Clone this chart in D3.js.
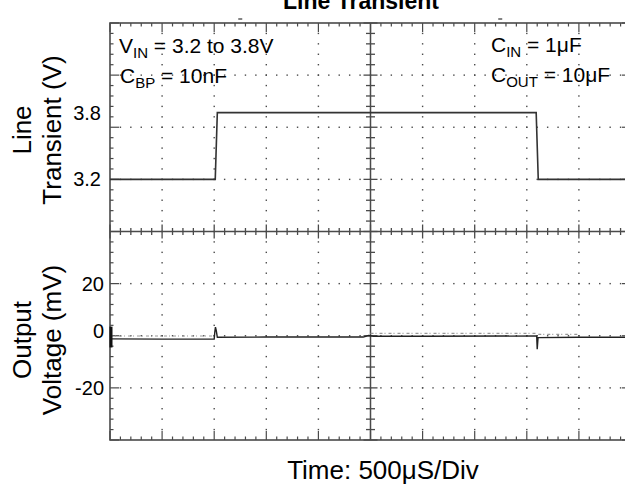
<!DOCTYPE html>
<html>
<head>
<meta charset="utf-8">
<script src="https://cdn.jsdelivr.net/npm/d3@7"></script>
<style>
  body { margin: 0; background: #fff; }
  svg { display: block; font-family: "Liberation Sans", Arial, sans-serif; }
</style>
</head>
<body>
<svg id="chart" width="625" height="491"></svg>
<script>
// ---- data (time in uS, top trace in V, bottom trace in mV)
const timeDomain = [0, 5000];
const divTime = 500;

const lineTime = [0, 1010, 1030, 4090, 4110, 5000];
const lineVolts = [3.2, 3.2, 3.8, 3.8, 3.2, 3.2];

const outTime = [0, 500, 1000, 1006, 1012, 1020, 1030, 1500, 2430, 2480, 2530, 3000, 4095, 4100, 4108, 4500, 5000];
const outMv = [-1.2, -1.3, -1.3, 1.5, 3.3, 2.0, -0.6, -0.5, -0.5, 0.1, -0.2, -0.2, -0.1, -5.2, -0.7, -0.6, -0.6];

// noisy stretches of the output trace: [from, to, level mV]
const noiseStart = [0, 2500, 4110];
const noiseEnd = [1000, 4095, 4500];
const noiseMv = [-0.7, 0.3, -0.1];

const groundMarkMv = [3.5, -4.5];
const topMarkTime = [1250, 3745];

const topTicks = [3.2, 3.8];
const bottomTicks = [20, 0, -20];

// ---- layout
const svg = d3.select("#chart");
const pLeft = 110, pRight = 631, pTop = 23, pBottom = 440;

const x = d3.scaleLinear().domain(timeDomain).range([pLeft, pRight]);
const yDiv = d3.scaleLinear().domain([-4, 4]).range([pBottom, pTop]);
const yV = d3.scaleLinear().domain([3.2, 3.8]).range([yDiv(1), yDiv(2.28)]);
const yMv = d3.scaleLinear().domain([-40, 40]).range([yDiv(-4), yDiv(0)]);

const xMajor = d3.range(0, 5001, divTime);
const xMinor = d3.range(0, 5001, divTime / 5);
const yMajor = d3.range(-4, 5, 1);
const yMinor = d3.range(-4, 4.01, 0.2);

const gridCol = "#4a4a4a";
const g = svg.append("g");

// dotted grid
xMajor.filter(t => t > 0 && t < 5000 && t !== 2500).forEach(t => {
  g.selectAll(null).data(yMinor.filter(d => d > -3.99 && d < 3.99))
    .join("rect")
      .attr("x", x(t) - 0.7).attr("y", d => yDiv(d) - 0.7)
      .attr("width", 1.4).attr("height", 1.4)
      .attr("fill", gridCol);
});
yMajor.filter(d => d > -4 && d < 4 && d !== 0).forEach(d => {
  g.selectAll(null).data(xMinor.filter(t => t > 0 && t < 5000))
    .join("rect")
      .attr("x", t => x(t) - 0.7).attr("y", yDiv(d) - 0.7)
      .attr("width", 1.4).attr("height", 1.4)
      .attr("fill", gridCol);
});

// centre cross
g.append("line").attr("x1", pLeft).attr("x2", pRight).attr("y1", yDiv(0)).attr("y2", yDiv(0))
  .attr("stroke", gridCol).attr("stroke-width", 1.5);
g.append("line").attr("x1", x(2500)).attr("x2", x(2500)).attr("y1", pTop).attr("y2", pBottom)
  .attr("stroke", gridCol).attr("stroke-width", 1.5);

const isMajorT = t => t % divTime === 0;
const isMajorY = d => Math.abs(d - Math.round(d)) < 1e-6;

g.selectAll("line.cx").data(xMinor)
  .join("line").attr("class", "cx")
    .attr("x1", t => x(t)).attr("x2", t => x(t))
    .attr("y1", t => yDiv(0) - (isMajorT(t) ? 7 : 3.5))
    .attr("y2", t => yDiv(0) + (isMajorT(t) ? 7 : 3.5))
    .attr("stroke", gridCol).attr("stroke-width", 1.3);
g.selectAll("line.cy").data(yMinor)
  .join("line").attr("class", "cy")
    .attr("y1", d => yDiv(d)).attr("y2", d => yDiv(d))
    .attr("x1", d => x(2500) - (isMajorY(d) ? 7 : 4.5))
    .attr("x2", d => x(2500) + (isMajorY(d) ? 7 : 4.5))
    .attr("stroke", gridCol).attr("stroke-width", 1.3);

// frame ticks
g.selectAll("line.ft").data(xMinor)
  .join("line").attr("class", "ft")
    .attr("x1", t => x(t)).attr("x2", t => x(t))
    .attr("y1", pTop).attr("y2", t => pTop + (isMajorT(t) ? 9 : 3.5))
    .attr("stroke", gridCol).attr("stroke-width", 1.2);
g.selectAll("line.fb").data(xMinor)
  .join("line").attr("class", "fb")
    .attr("x1", t => x(t)).attr("x2", t => x(t))
    .attr("y1", pBottom).attr("y2", t => pBottom - (isMajorT(t) ? 9 : 3.5))
    .attr("stroke", gridCol).attr("stroke-width", 1.2);
g.selectAll("line.fl").data(yMinor)
  .join("line").attr("class", "fl")
    .attr("y1", d => yDiv(d)).attr("y2", d => yDiv(d))
    .attr("x1", pLeft).attr("x2", d => pLeft + (isMajorY(d) ? 9 : 3.5))
    .attr("stroke", gridCol).attr("stroke-width", 1.2);
g.selectAll("line.fr").data(yMinor)
  .join("line").attr("class", "fr")
    .attr("y1", d => yDiv(d)).attr("y2", d => yDiv(d))
    .attr("x1", pRight).attr("x2", d => pRight - (isMajorY(d) ? 9 : 3.5))
    .attr("stroke", gridCol).attr("stroke-width", 1.2);

g.append("rect")
  .attr("x", pLeft).attr("y", pTop).attr("width", pRight - pLeft).attr("height", pBottom - pTop)
  .attr("fill", "none").attr("stroke", gridCol).attr("stroke-width", 1.6);

// top markers
g.selectAll("line.mk").data(topMarkTime)
  .join("line").attr("class", "mk")
    .attr("x1", t => x(t) - 2).attr("x2", t => x(t) + 2)
    .attr("y1", pTop - 4).attr("y2", pTop - 4)
    .attr("stroke", "#333").attr("stroke-width", 1.2);

// ---- traces
const lineData = lineTime.map((t, i) => ({t: t, v: lineVolts[i]}));
svg.append("path")
  .datum(lineData)
  .attr("fill", "none").attr("stroke", "#333").attr("stroke-width", 1.6)
  .attr("d", d3.line().x(d => x(d.t)).y(d => yV(d.v)));

noiseStart.forEach((t0, i) => {
  svg.append("path")
    .datum([t0, noiseEnd[i]])
    .attr("fill", "none").attr("stroke", "#999").attr("stroke-width", 1.2)
    .attr("stroke-dasharray", "3,2,1,3")
    .attr("d", d3.line().x(d => x(d)).y(() => yMv(noiseMv[i] + 0.6)));
});

const outData = outTime.map((t, i) => ({t: t, v: outMv[i]}));
svg.append("path")
  .datum(outData)
  .attr("fill", "none").attr("stroke", "#222").attr("stroke-width", 1.4)
  .attr("d", d3.line().x(d => x(d.t)).y(d => yMv(d.v)));

svg.append("line")
  .attr("x1", x(0) + 1).attr("x2", x(0) + 1)
  .attr("y1", yMv(groundMarkMv[0])).attr("y2", yMv(groundMarkMv[1]))
  .attr("stroke", "#111").attr("stroke-width", 3);

// ---- tick labels
svg.selectAll("text.tt").data(topTicks)
  .join("text").attr("class", "tt")
    .attr("x", 101).attr("y", d => yV(d))
    .attr("dy", "0.35em").attr("text-anchor", "end")
    .attr("font-size", 20).text(d => d.toFixed(1));
svg.selectAll("text.bt").data(bottomTicks)
  .join("text").attr("class", "bt")
    .attr("x", 104).attr("y", d => yMv(d) + (d === 0 ? -5 : 0))
    .attr("dy", "0.35em").attr("text-anchor", "end")
    .attr("font-size", 20).text(d => d);

// ---- axis titles
function vTitle(lines, cy) {
  const t = svg.append("text")
    .attr("transform", `translate(0,${cy}) rotate(-90)`)
    .attr("text-anchor", "middle").attr("font-size", 26);
  lines.forEach((s, i) => t.append("tspan").attr("x", 0).attr("y", i === 0 ? 31 : 61).text(s));
}
vTitle(["Line", "Transient (V)"], 130);
vTitle(["Output", "Voltage (mV)"], 340);

svg.append("text")
  .attr("x", 383).attr("y", 479).attr("text-anchor", "middle")
  .attr("font-size", 26).text("Time: 500\u03bcS/Div");

svg.append("text")
  .attr("x", 361).attr("y", 9).attr("text-anchor", "middle")
  .attr("font-size", 23).attr("font-weight", "bold").text("Line Transient");

// ---- annotations with subscripts
function note(xp, yp, main, sub, rest) {
  const t = svg.append("text").attr("x", xp).attr("y", yp).attr("font-size", 21);
  t.append("tspan").text(main);
  t.append("tspan").attr("font-size", 15).attr("dy", 5).text(sub);
  t.append("tspan").attr("dy", -5).text(rest);
}
note(119, 53, "V", "IN", " = 3.2 to 3.8V");
note(120, 83, "C", "BP", " = 10nF");
note(491, 52, "C", "IN", " = 1\u03bcF");
note(491, 82, "C", "OUT", " = 10\u03bcF");
</script>
</body>
</html>
